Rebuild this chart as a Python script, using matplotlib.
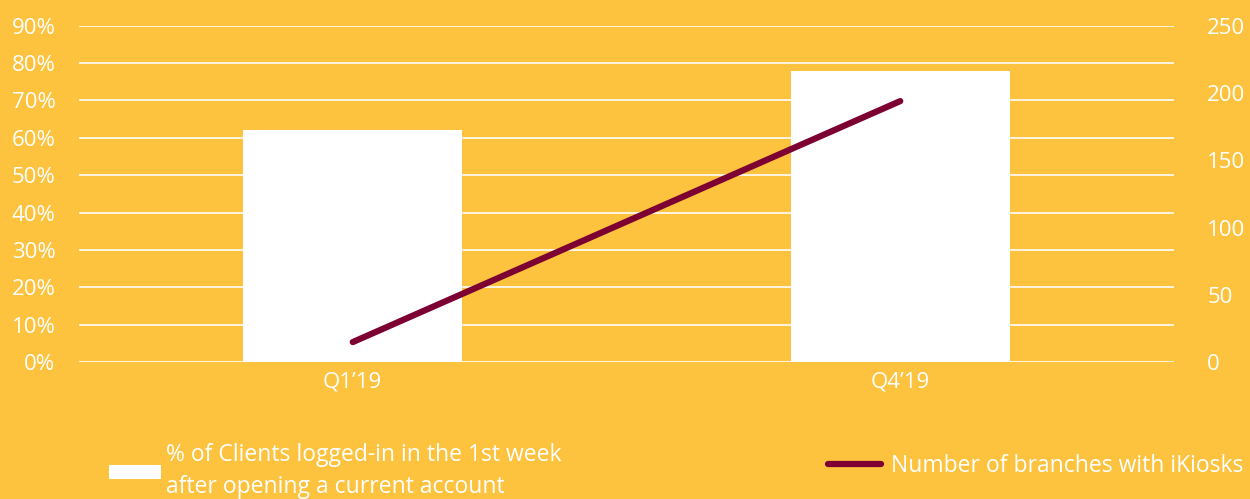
import matplotlib.pyplot as plt
import numpy as np

quarters = ['Q1\u201919', 'Q4\u201919']
pct_logged_in = [62, 78]          # % of clients, left axis
branches_ikiosk = [15, 194]       # number of branches, right axis

BG = '#FDC23E'
MAROON = '#7D0033'

plt.rcParams['font.family'] = ['Open Sans', 'DejaVu Sans']

fig = plt.figure(figsize=(12.5, 4.99), dpi=100, facecolor=BG)
ax = fig.add_axes([0.0632, 0.274, 0.876, 0.6745])
ax.set_facecolor(BG)
ax2 = ax.twinx()

x = np.arange(len(quarters))
bars = ax.bar(x, pct_logged_in, width=0.4, color='white', zorder=2,
              label='% of Clients logged-in in the 1st week\nafter opening a current account')
line, = ax2.plot(x, branches_ikiosk, color=MAROON, lw=4.5, solid_capstyle='round',
                 label='Number of branches with iKiosks')

ax.set_xlim(-0.5, 1.5)
ax.set_ylim(0, 90)
ax.set_yticks(np.arange(0, 91, 10))
ax.set_yticklabels([f'{v}%' for v in range(0, 91, 10)])
ax2.set_ylim(0, 250)
ax2.set_yticks(np.arange(0, 251, 50))

ax.set_xticks(x)
ax.set_xticklabels(quarters)
ax.grid(axis='y', color='white', lw=1.2, zorder=0)
ax.set_axisbelow(True)

for a in (ax, ax2):
    for s in a.spines.values():
        s.set_visible(False)
    a.tick_params(length=0, colors='white', labelsize=16)
ax.tick_params(axis='y', pad=17)
ax.tick_params(axis='x', pad=7)
ax2.tick_params(axis='y', pad=24)

leg_kw = dict(frameon=False, fontsize=16.5, labelcolor='white',
              borderpad=0, borderaxespad=0, loc='center left')
leg1 = fig.legend(handles=[bars], bbox_to_anchor=(0.0872, 0.056),
                  handlelength=2.27, handleheight=0.6, handletextpad=0.22, **leg_kw)
leg1.get_texts()[0].set_linespacing(1.45)
fig.legend(handles=[line], bbox_to_anchor=(0.6624, 0.066),
           handlelength=2.3, handletextpad=0.45, **leg_kw)

fig.savefig('out.png', dpi=100, facecolor=BG)
